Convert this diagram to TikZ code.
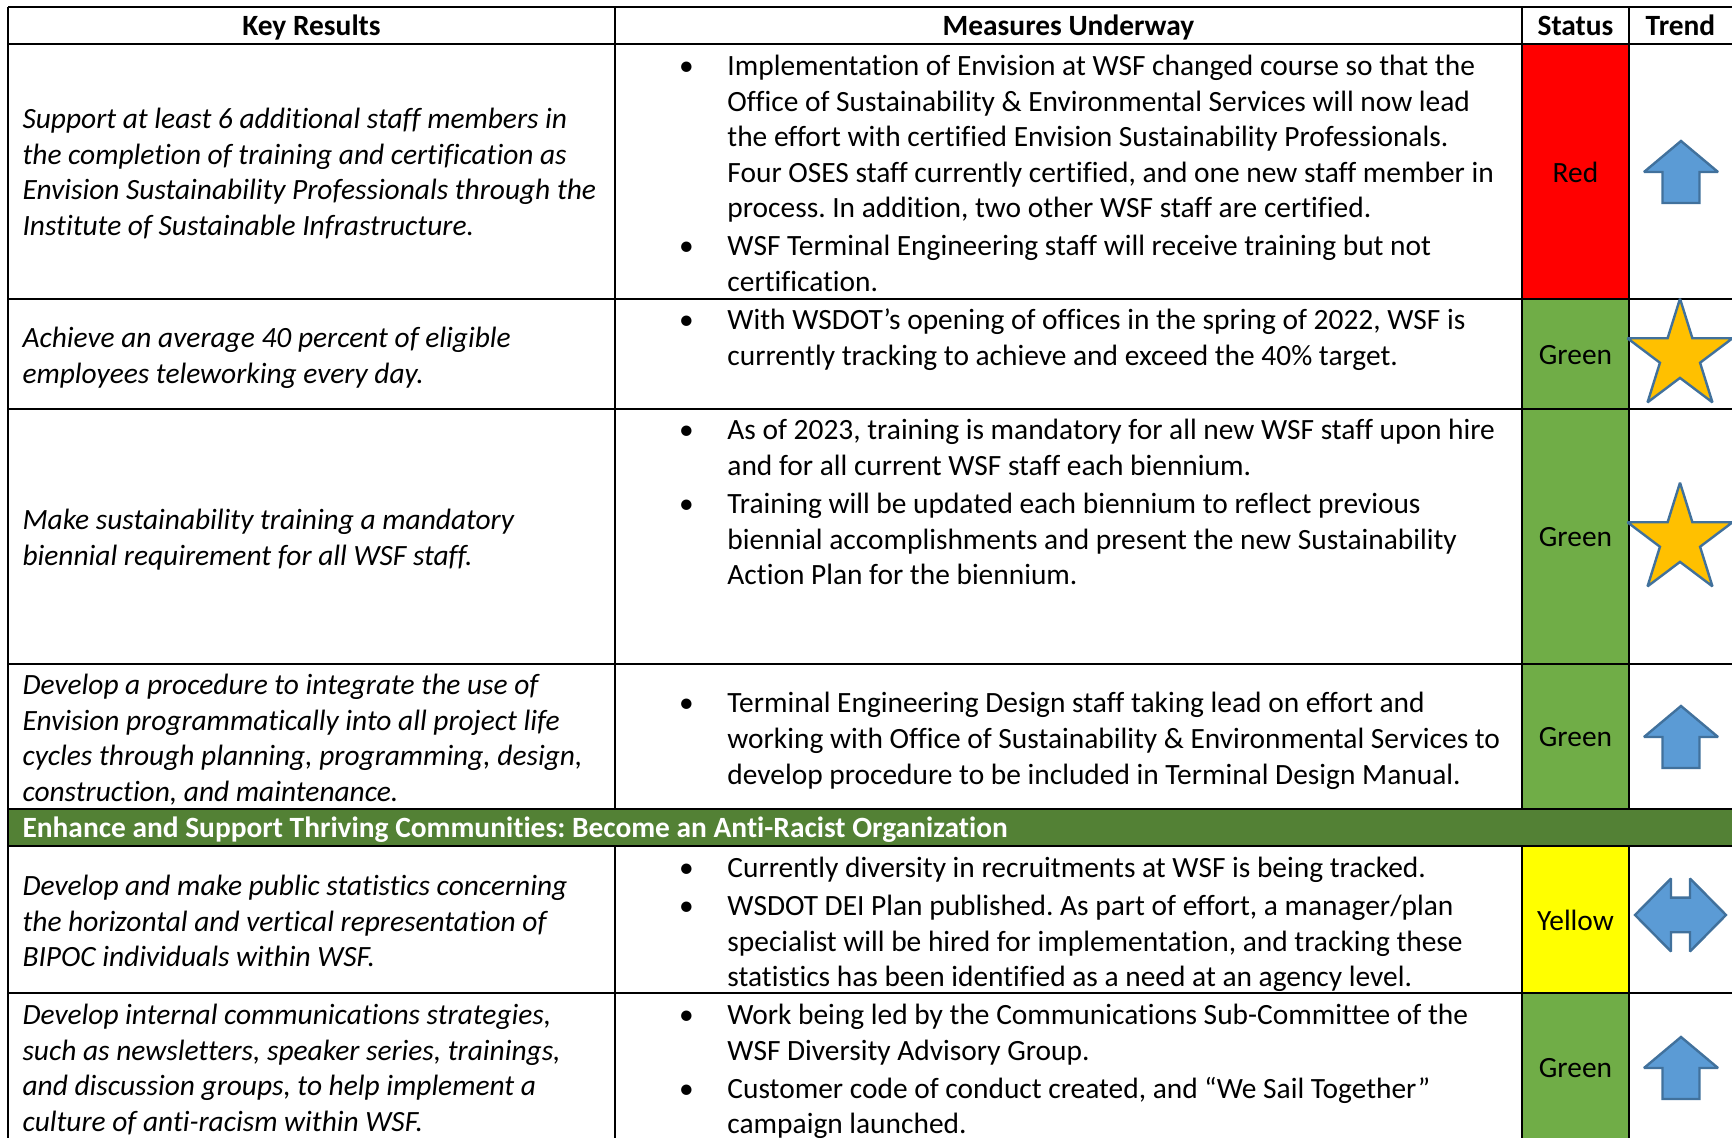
\documentclass[tikz,border=0pt]{standalone}
\usepackage{fontspec}
\setmainfont{Carlito}[Ligatures={TeX,NoCommon}]
\usetikzlibrary{positioning}

\definecolor{statusred}{HTML}{FF0000}
\definecolor{statusgreen}{HTML}{70AD47}
\definecolor{statusyellow}{HTML}{FFFF00}
\definecolor{bandgreen}{HTML}{538135}
\definecolor{trendblue}{HTML}{5B9BD5}
\definecolor{trendedge}{HTML}{41719C}
\definecolor{stargold}{HTML}{FFC000}

\frenchspacing
\newcommand{\celltext}[1]{\begin{tabular}[t]{@{}l@{}}#1\end{tabular}}
\newcommand{\bulitem}{\makebox[15.3pt][l]{\makebox[0pt]{\textbullet}}}
\newcommand{\contline}{\hspace*{15.3pt}}

\newcommand{\trendup}[2]{%
        \draw[trendfill] (#1,#2-31) -- (#1+37,#2) -- (#1+18.5,#2) -- (#1+18.5,#2+31)
                -- (#1-18.5,#2+31) -- (#1-18.5,#2) -- (#1-37,#2) -- cycle;}
\newcommand{\trendboth}[2]{%
        \draw[trendfill] (#1-45.5,#2) -- (#1-9.5,#2-36.5) -- (#1-9.5,#2-17.3) -- (#1+9.5,#2-17.3)
                -- (#1+9.5,#2-36.5) -- (#1+45.5,#2) -- (#1+9.5,#2+36.5) -- (#1+9.5,#2+17.3)
                -- (#1-9.5,#2+17.3) -- (#1-9.5,#2+36.5) -- cycle;}
\newcommand{\trendstar}[2]{%
        \draw[starfill] ({#1+21.1*cos(54)},{#2-21.9*sin(54)})
                \foreach \a in {90,162,234,306,378} {
                        -- ({#1+55.2*cos(\a)},{#2-57.3*sin(\a)})
                        -- ({#1+21.1*cos(\a+36)},{#2-21.9*sin(\a+36)})} -- cycle;}

\begin{document}
\begin{tikzpicture}[x=0.374pt,y=-0.374pt,
        every node/.style={inner sep=0pt,font=\fontsize{11pt}{13.3pt}\selectfont},
        head/.style={font=\fontsize{11pt}{13.3pt}\selectfont\bfseries,anchor=base},
        result/.style={font=\fontsize{11pt}{13.3pt}\selectfont\itshape,anchor=base west},
        measure/.style={anchor=base west},
        band/.style={font=\fontsize{11pt}{13.3pt}\selectfont\bfseries,text=white,anchor=base west},
        status/.style={anchor=center},
        tableline/.style={line width=0.75pt},
        trendfill/.style={fill=trendblue,draw=trendedge,line width=0.9pt,miter limit=2},
        starfill/.style={fill=stargold,draw=trendedge,line width=0.9pt,miter limit=2}]
        \useasboundingbox (0,0) rectangle (1732,1138);
        \clip (0,0) rectangle (1732,1138);

        \fill[statusred] (1522,44) rectangle (1629,299);
        \fill[statusgreen] (1522,299) rectangle (1629,809);
        \fill[bandgreen] (8,809) rectangle (1740,846);
        \fill[statusyellow] (1522,846) rectangle (1629,993);
        \fill[statusgreen] (1522,993) rectangle (1629,1150);

        \foreach \y in {7,44,299,409,664,809,846,993}
                \draw[tableline] (8,\y) -- (1740,\y);
        \draw[tableline] (8,7) -- (8,1150);
        \foreach \x in {615,1522,1629} {
                \draw[tableline] (\x,7) -- (\x,809);
                \draw[tableline] (\x,846) -- (\x,1150);
        }

        \node[head] (hkr) at (311.5,35.5) {Key Results};
        \node[head] (hmu) at (1068.5,35.5) {Measures Underway};
        \node[head] (hst) at (1575.5,35.5) {Status};
        \node[head] (htr) at (1680.5,35.5) {Trend};

        \node[result] (kr1) at (22,128.5) {\celltext{Support at least 6 additional staff members in\\
                the completion of training and certification as\\
                Envision Sustainability Professionals through the\\
                Institute of Sustainable Infrastructure.}};
        \node[result] (kr2) at (22,347.5) {\celltext{Achieve an average 40 percent of eligible\\
                employees teleworking every day.}};
        \node[result] (kr3) at (22,529.5) {\celltext{Make sustainability training a mandatory\\
                biennial requirement for all WSF staff.}};
        \node[result] (kr4) at (22,694.5) {\celltext{Develop a procedure to integrate the use of\\
                Envision programmatically into all project life\\
                cycles through planning, programming, design,\\
                construction, and maintenance.}};
        \node[band] (band) at (22,837.5) {Enhance and Support Thriving Communities: Become an Anti-Racist Organization};
        \node[result] (kr5) at (22,895.5) {\celltext{Develop and make public statistics concerning\\
                the horizontal and vertical representation of\\
                BIPOC individuals within WSF.}};
        \node[result] (kr6) at (22,1024.5) {\celltext{Develop internal communications strategies,\\
                such as newsletters, speaker series, trainings,\\
                and discussion groups, to help implement a\\
                culture of anti-racism within WSF.}};

        \node[measure] (mu1) at (686,75.5) {\celltext{\bulitem Implementation of Envision at WSF changed course so that the\\
                \contline Office of Sustainability \& Environmental Services will now lead\\
                \contline the effort with certified Envision Sustainability Professionals.\\
                \contline Four OSES staff currently certified, and one new staff member in\\
                \contline process. In addition, two other WSF staff are certified.\\[1pt]
                \bulitem WSF Terminal Engineering staff will receive training but not\\
                \contline certification.}};
        \node[measure] (mu2) at (686,330) {\celltext{\bulitem With WSDOT’s opening of offices in the spring of 2022, WSF is\\
                \contline currently tracking to achieve and exceed the 40\% target.}};
        \node[measure] (mu3) at (686,440) {\celltext{\bulitem As of 2023, training is mandatory for all new WSF staff upon hire\\
                \contline and for all current WSF staff each biennium.\\[1pt]
                \bulitem Training will be updated each biennium to reflect previous\\
                \contline biennial accomplishments and present the new Sustainability\\
                \contline Action Plan for the biennium.}};
        \node[measure] (mu4) at (686,713) {\celltext{\bulitem Terminal Engineering Design staff taking lead on effort and\\
                \contline working with Office of Sustainability \& Environmental Services to\\
                \contline develop procedure to be included in Terminal Design Manual.}};
        \node[measure] (mu5) at (686,877.5) {\celltext{\bulitem Currently diversity in recruitments at WSF is being tracked.\\[1pt]
                \bulitem WSDOT DEI Plan published. As part of effort, a manager/plan\\
                \contline specialist will be hired for implementation, and tracking these\\
                \contline statistics has been identified as a need at an agency level.}};
        \node[measure] (mu6) at (686,1024.5) {\celltext{\bulitem Work being led by the Communications Sub-Committee of the\\
                \contline WSF Diversity Advisory Group.\\[1pt]
                \bulitem Customer code of conduct created, and “We Sail Together”\\
                \contline campaign launched.}};

        \node[status] (st1) at (1575.5,172) {Red};
        \node[status] (st2) at (1575.5,355) {Green};
        \node[status] (st3) at (1575.5,537.5) {Green};
        \node[status] (st4) at (1575.5,737.5) {Green};
        \node[status] (st5) at (1575.5,920.5) {Yellow};
        \node[status] (st6) at (1575.5,1068.5) {Green};

        \trendup{1681}{172}
        \trendstar{1680}{356}
        \trendstar{1680}{540}
        \trendup{1681}{737}
        \trendboth{1680.5}{915}
        \trendup{1681}{1068}
\end{tikzpicture}
\end{document}
